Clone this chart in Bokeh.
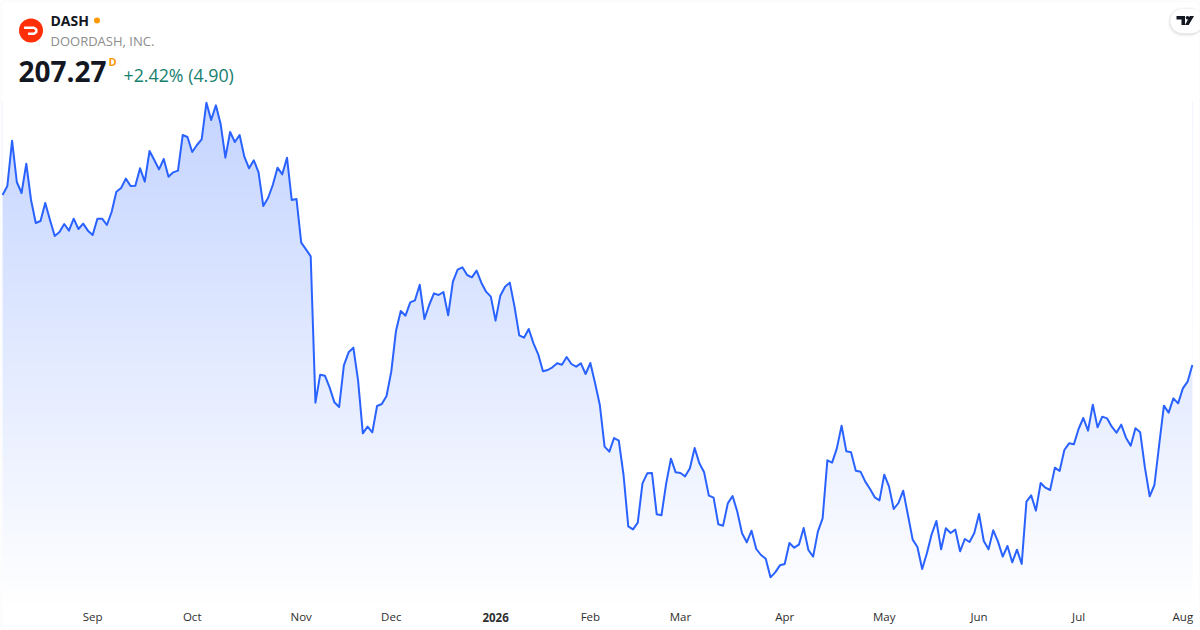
import numpy as np
from bokeh.plotting import figure
from bokeh.models import Range1d, FixedTicker, BoxAnnotation, LinearAxis
from bokeh.core.properties import value
from bokeh.embed import file_html
from bokeh.resources import INLINE

prices = [
258.3,261.0,274.6,262.2,258.9,267.7,256.8,249.9,250.5,255.9,250.8,246.0,247.2,249.6,247.6,251.2,248.1,249.7,247.6,246.3,
251.2,251.2,249.3,253.2,259.3,260.4,263.2,261.0,261.1,266.3,262.3,271.5,268.8,266.0,269.1,263.8,265.1,265.6,276.3,275.7,
271.2,273.3,275.0,286.0,280.8,285.2,279.6,269.5,277.2,274.2,276.3,269.8,266.3,268.7,265.1,255.0,257.4,261.3,266.5,264.5,
269.5,256.8,257.1,244.0,242.0,239.9,196.0,204.4,204.1,200.5,196.1,194.7,207.2,211.1,212.5,202.6,186.8,188.8,187.1,195.0,
195.6,198.0,205.3,217.6,223.5,222.1,226.1,226.7,231.4,221.1,225.3,228.8,228.3,229.2,222.2,232.3,235.9,236.6,234.3,233.6,
235.6,232.0,229.3,227.8,220.6,228.1,230.8,232.0,224.8,216.2,215.5,218.1,213.8,210.5,205.4,205.8,206.6,207.8,207.4,209.7,
207.6,206.8,207.8,204.6,207.9,201.8,195.3,182.8,181.3,185.4,184.6,174.3,158.9,158.0,160.0,171.8,174.8,174.9,162.5,162.2,
171.8,179.2,175.1,174.9,173.9,176.3,182.4,177.8,175.1,168.1,167.5,159.5,159.1,165.8,168.0,163.3,156.8,154.1,157.6,152.1,
150.3,149.2,143.6,145.1,147.2,147.6,153.9,152.5,153.4,158.4,151.8,149.8,157.3,161.3,178.7,178.0,182.3,189.1,181.4,181.1,
175.6,175.3,172.3,170.1,167.6,166.7,174.4,170.9,164.1,165.9,169.6,162.3,154.9,152.7,146.1,150.8,156.5,160.5,152.0,158.3,
156.9,157.9,151.4,155.1,154.2,156.9,162.6,154.5,152.0,157.7,154.3,149.8,153.0,148.1,151.9,147.6,166.3,168.2,163.6,171.9,
170.5,169.8,176.5,175.5,181.8,183.8,183.5,188.1,191.4,187.6,195.4,188.6,191.8,191.3,188.8,187.0,189.4,185.5,183.1,188.3,
187.1,176.5,167.9,171.3,183.3,195.1,193.0,197.3,195.8,200.3,202.3,207.3,
]
tick_index = [19, 40, 63, 82, 124, 143, 165, 186, 206, 227, 249]
tick_labels = ["Sep", "Oct", "Nov", "Dec", "Feb", "Mar", "Apr", "May", "Jun", "Jul", "Aug"]
year_index = [104]
year_label = ["2026"]
symbol = "DASH"
company = "DOORDASH, INC."
last_price = "207.27"
change = "+2.42% (4.90)"

W, H, AXIS_Y = 1200, 630, 604
X0, DX = 3.1, 4.74
PTOP, PPX = 316.8, 0.3
SHIFT_X, SHIFT_Y = 1.0, 0.5
xs = np.arange(len(prices))

def fx(px):
    return (px - X0) / DX
def fy(py):
    return PTOP - PPX * py

p = figure(width=W, height=H, output_backend="svg", toolbar_location=None,
           x_range=Range1d(fx(SHIFT_X), fx(W + SHIFT_X)), y_range=Range1d(fy(H + SHIFT_Y), fy(SHIFT_Y)),
           min_border=0, background_fill_color="white", border_fill_color="white",
           outline_line_color=None, x_axis_location=None, y_axis_location=None)
p.grid.visible = False

def month_axis(ticks, labels, style, standoff):
    ax = LinearAxis(ticker=FixedTicker(ticks=ticks), fixed_location=fy(AXIS_Y))
    ax.major_label_overrides = dict(zip(ticks, labels))
    ax.axis_line_color = None
    ax.major_tick_line_color = None
    ax.minor_tick_line_color = None
    ax.major_tick_out = 0
    ax.major_tick_in = 0
    ax.minor_tick_out = 0
    ax.major_label_standoff = standoff
    ax.major_label_text_font = "Open Sans"
    ax.major_label_text_font_size = "11.5px"
    ax.major_label_text_font_style = style
    ax.major_label_text_color = "#2e2e2e"
    p.add_layout(ax, "below")

month_axis(tick_index, tick_labels, "normal", 5)
month_axis(year_index, year_label, "bold", 9)

# gradient under the line: ramp image, masked above the line with white
N = 256
t = np.linspace(1, 0, N)[:, None]
r = (197 + 58 * t).astype(np.uint32)
g = (213 + 42 * t).astype(np.uint32)
b = np.full_like(r, 255)
a = np.full_like(r, 255)
img = (a << 24) | (b << 16) | (g << 8) | r
p.image_rgba(image=[img], x=0, y=fy(AXIS_Y), dw=len(prices) - 1, dh=fy(102) - fy(AXIS_Y))
p.varea(x=xs, y1=prices, y2=fy(0), fill_color="white")
p.line(xs, prices, line_color="#2962ff", line_width=2, line_join="round")

# header
p.scatter([fx(31.5)], [fy(30.5)], size=24, marker="circle", fill_color="#ff3008", line_color=None)
lx = [25.5, 34.5, 36.8, 36.8, 34.5, 29.5]
ly = [27.8, 27.8, 29.5, 32, 33.7, 33.7]
p.line([fx(v) for v in lx], [fy(v) for v in ly], line_color="white", line_width=2.4, line_cap="round", line_join="round")
p.scatter([fx(97.5)], [fy(20.5)], size=6, marker="circle", fill_color="#ff9800", line_color=None)

def txt(px, py, s, size, color, style="normal"):
    p.text([fx(px)], [fy(py)], text=[s], text_font=value("Open Sans"), text_font_size=size,
           text_color=color, text_font_style=style, text_align="left", text_baseline="middle")

txt(51, 20.5, symbol, "14px", "#131722", "bold")
txt(51, 40.5, company, "13px", "#8c8c8c")
txt(19, 71.5, last_price, "28px", "#131722", "bold")
txt(109, 61, "D", "11px", "#ff9800", "bold")
txt(124, 75, change, "17.8px", "#15806d")

# logo badge with a soft shadow
for grow, alpha in ((3, 0.02), (2, 0.03), (1, 0.04)):
    p.add_layout(BoxAnnotation(left=fx(1171 - grow), right=fx(1204), top=fy(9 - grow + 1), bottom=fy(33 + grow + 1),
                               fill_color="#000000", fill_alpha=alpha, line_alpha=0,
                               border_radius=12 + grow))
p.add_layout(BoxAnnotation(left=fx(1171), right=fx(1204), top=fy(9), bottom=fy(33),
                           fill_color="white", fill_alpha=1, line_alpha=0, border_radius=12))
p.patches([[fx(v) for v in [1177, 1185.5, 1185.5, 1182, 1182, 1177]],
           [fx(v) for v in [1190.3, 1194.5, 1189.2, 1185.5]]],
          [[fy(v) for v in [16, 16, 25, 25, 19.5, 19.5]],
           [fy(v) for v in [16, 16, 25, 25]]],
          fill_color="#131722", line_color=None, level="overlay")
p.scatter([fx(1188)], [fy(17.7)], size=3.6, marker="circle", fill_color="#131722", line_color=None, level="overlay")

# frame
p.add_layout(BoxAnnotation(left=fx(1.5), right=fx(1200.5), top=fy(1), bottom=fy(630),
                           fill_alpha=0, line_color="#e3e3e3", line_width=1, border_radius=4))

open("out.html", "w").write(file_html(p, INLINE))
